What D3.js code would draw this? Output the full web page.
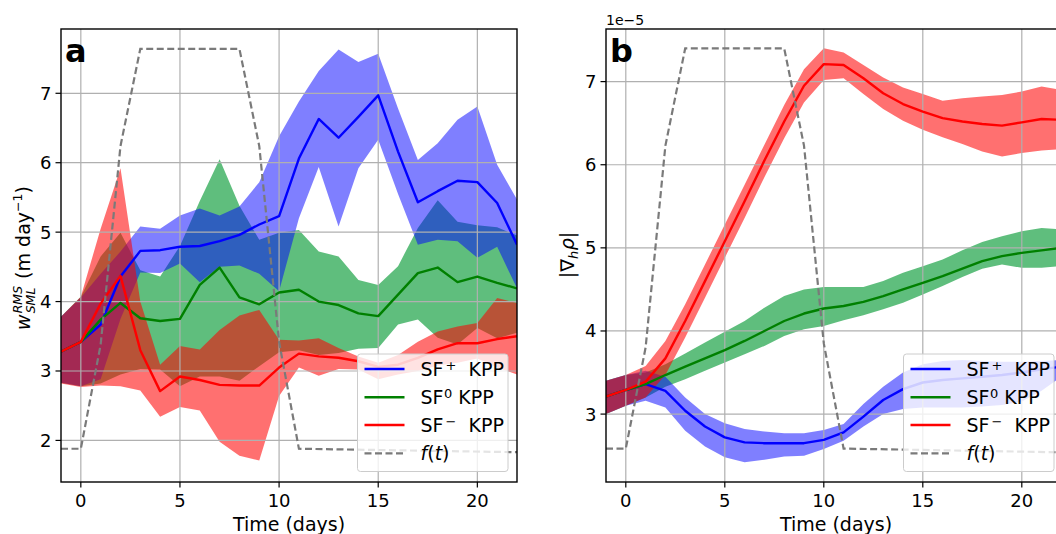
<!DOCTYPE html>
<html><head><meta charset="utf-8">
<script src="https://cdn.jsdelivr.net/npm/d3@7"></script>
<style>
body{margin:0;background:#fff}
svg{display:block}
text{font-family:"DejaVu Sans",sans-serif;fill:#000;white-space:pre}
</style>
</head><body>
<svg id="chart" width="1056" height="534"></svg>
<script>
// ---------------- data ----------------
const days = [-1,0,1,2,3,4,5,6,7,8,9,10,11,12,13,14,15,16,17,18,19,20,21,22];
const xTicks = [0,5,10,15,20];
const yTicksA = [2,3,4,5,6,7];
const yTicksB = [3,4,5,6,7];
const legendBase = ["SF","SF","SF"];
const legendSup = ["+","0","\u2212"];
const legendSuffix = ["  KPP"," KPP","  KPP"];

// panel a : w_SML^RMS (m/day)
const aPlusMean  = [3.28,3.42,3.67,4.36,4.73,4.74,4.79,4.80,4.87,4.96,5.11,5.23,6.06,6.63,6.36,6.66,6.97,6.16,5.43,5.59,5.74,5.72,5.42,4.82];
const aPlusUp    = [3.78,4.06,4.40,4.72,5.08,5.05,5.24,5.34,5.24,5.37,5.72,6.38,6.88,7.32,7.63,7.45,7.57,6.78,6.04,6.28,6.62,6.81,5.97,5.47];
const aPlusLo    = [2.83,2.78,2.88,3.75,4.42,4.41,4.55,4.28,4.50,4.52,4.40,4.15,5.20,5.94,5.08,5.92,6.33,5.55,4.82,4.89,4.87,4.63,4.79,4.19];
const aZeroMean  = [3.28,3.42,3.74,3.98,3.76,3.72,3.75,4.24,4.49,4.06,3.96,4.13,4.17,4.00,3.95,3.83,3.79,4.10,4.41,4.49,4.28,4.36,4.27,4.19];
const aZeroUp    = [3.78,4.07,4.65,4.99,4.45,4.36,4.80,5.45,6.05,5.38,4.89,4.99,5.03,4.72,4.65,4.31,4.24,4.51,5.06,5.46,5.15,5.10,5.07,4.95];
const aZeroLo    = [2.83,2.78,2.82,2.95,3.03,3.02,2.78,2.92,2.92,2.86,3.07,3.27,3.30,3.23,3.26,3.32,3.33,3.67,3.74,3.48,3.38,3.62,3.47,3.55];
const aMinusMean = [3.28,3.42,3.97,4.37,3.30,2.71,2.92,2.87,2.80,2.79,2.79,3.05,3.25,3.21,3.19,3.14,3.06,3.09,3.19,3.31,3.40,3.40,3.46,3.50];
const aMinusUp   = [3.78,4.07,5.05,5.92,4.00,3.09,3.36,3.31,3.59,3.80,3.88,3.45,3.44,3.47,3.33,3.21,3.12,3.23,3.42,3.57,3.64,3.69,4.05,3.98];
const aMinusLo   = [2.82,2.77,2.79,2.78,2.72,2.34,2.48,2.43,1.98,1.78,1.71,2.64,3.05,2.93,3.03,3.02,2.88,2.95,3.00,3.08,3.12,3.18,3.05,2.95];

// panel b : |grad_h rho| (x 1e-5)
const bPlusMean  = [3.21,3.29,3.36,3.28,3.04,2.85,2.72,2.66,2.65,2.65,2.65,2.69,2.78,2.97,3.17,3.30,3.38,3.41,3.43,3.45,3.47,3.50,3.54,3.57];
const bPlusUp    = [3.40,3.47,3.52,3.45,3.20,3.00,2.89,2.82,2.79,2.77,2.77,2.81,2.88,3.12,3.33,3.50,3.60,3.64,3.65,3.64,3.63,3.63,3.64,3.65];
const bPlusLo    = [3.00,3.10,3.16,3.08,2.80,2.61,2.48,2.42,2.45,2.49,2.50,2.58,2.68,2.85,3.00,3.06,3.08,3.08,3.08,3.09,3.11,3.15,3.28,3.45];
const bZeroMean  = [3.21,3.29,3.36,3.47,3.57,3.67,3.77,3.88,4.00,4.12,4.21,4.27,4.30,4.35,4.42,4.50,4.58,4.66,4.75,4.84,4.90,4.94,4.97,5.00];
const bZeroUp    = [3.40,3.47,3.50,3.60,3.73,3.86,3.99,4.12,4.28,4.42,4.50,4.53,4.53,4.53,4.60,4.70,4.78,4.86,4.97,5.07,5.14,5.20,5.24,5.22];
const bZeroLo    = [3.00,3.10,3.20,3.33,3.42,3.52,3.62,3.72,3.82,3.94,4.02,4.06,4.13,4.19,4.26,4.34,4.44,4.54,4.65,4.75,4.80,4.76,4.76,4.78];
const bMinusMean = [3.21,3.29,3.39,3.67,4.12,4.60,5.08,5.56,6.05,6.52,6.95,7.21,7.20,7.04,6.86,6.73,6.64,6.56,6.52,6.49,6.47,6.51,6.55,6.54];
const bMinusUp   = [3.40,3.47,3.58,3.88,4.32,4.80,5.28,5.76,6.24,6.72,7.15,7.40,7.35,7.20,7.05,6.93,6.85,6.77,6.80,6.82,6.84,6.88,6.94,6.90];
const bMinusLo   = [3.00,3.10,3.20,3.47,3.92,4.40,4.88,5.36,5.85,6.32,6.75,7.02,7.04,6.85,6.67,6.53,6.42,6.33,6.25,6.16,6.10,6.14,6.17,6.19];

// forcing f(t), drawn in each panel's units
const ftDays = [-1,0,1,2,3,8,9,10,11,22];
const ftA = [1.88,1.88,3.38,6.24,7.64,7.64,6.24,3.42,1.88,1.83];
const ftB = [2.585,2.585,3.80,6.23,7.40,7.40,6.23,3.85,2.585,2.54];

// ---------------- drawing ----------------
const svg = d3.select("#chart");
const COL = {plus:"#0000ff", zero:"#008000", minus:"#ff0000"};
const FILL = {plus:{c:"#0000ff",o:0.5}, zero:{c:"#2aa852",o:0.75}, minus:{c:"#ff0000",o:0.56}};

function zip(v){ return days.map((d,i)=>[d,v[i]]); }

function drawPanel(p){
  const g = svg.append("g");
  const x = d3.scaleLinear().domain([-1,22]).range([p.left, p.right]);
  const y = d3.scaleLinear().domain(p.yDomain).range([p.bottom, p.top]);
  const clipId = "clip"+p.id;
  svg.append("defs").append("clipPath").attr("id",clipId)
    .append("rect").attr("x",p.left).attr("y",p.top)
    .attr("width",p.right-p.left).attr("height",p.bottom-p.top);
  const plot = g.append("g").attr("clip-path",`url(#${clipId})`);

  const area = d3.area().x(d=>x(d.d)).y0(d=>y(d.lo)).y1(d=>y(d.hi));
  const line = d3.line().x(d=>x(d[0])).y(d=>y(d[1]));

  // fills: zero, plus, minus
  ["zero","plus","minus"].forEach(k=>{
    const s = p.series[k];
    const pts = days.map((d,i)=>({d, lo:s.lo[i], hi:s.hi[i]}));
    plot.append("path").attr("d",area(pts))
      .attr("fill",FILL[k].c).attr("fill-opacity",FILL[k].o).attr("stroke","none");
  });

  // grid (above fills, below lines, like matplotlib)
  const grid = plot.append("g").attr("stroke","#b0b0b0").attr("stroke-width",1.2);
  xTicks.forEach(t=>grid.append("line").attr("x1",x(t)).attr("x2",x(t)).attr("y1",p.top).attr("y2",p.bottom));
  p.yTicks.forEach(t=>grid.append("line").attr("y1",y(t)).attr("y2",y(t)).attr("x1",p.left).attr("x2",p.right));

  // mean lines
  ["plus","zero","minus"].forEach(k=>{
    plot.append("path").attr("d",line(zip(p.series[k].mean)))
      .attr("fill","none").attr("stroke",COL[k]).attr("stroke-width",2.4)
      .attr("stroke-linejoin","round");
  });
  // f(t)
  plot.append("path").attr("d",line(ftDays.map((d,i)=>[d,p.ft[i]])))
    .attr("fill","none").attr("stroke","#7a7a7a").attr("stroke-width",2.2)
    .attr("stroke-dasharray","7,3.5");

  // spines
  g.append("rect").attr("x",p.left).attr("y",p.top).attr("width",p.right-p.left).attr("height",p.bottom-p.top)
    .attr("fill","none").attr("stroke","#000").attr("stroke-width",1.4);

  // ticks
  const tk = g.append("g").attr("stroke","#000").attr("stroke-width",1.2);
  xTicks.forEach(t=>{
    tk.append("line").attr("x1",x(t)).attr("x2",x(t)).attr("y1",p.bottom).attr("y2",p.bottom+5.5);
    g.append("text").attr("x",x(t)).attr("y",p.bottom+25).attr("text-anchor","middle")
      .attr("font-size",18).text(t);
  });
  p.yTicks.forEach(t=>{
    tk.append("line").attr("x1",p.left-5.5).attr("x2",p.left).attr("y1",y(t)).attr("y2",y(t));
    g.append("text").attr("x",p.left-9.5).attr("y",y(t)+6.5).attr("text-anchor","end")
      .attr("font-size",18).text(t);
  });

  // x label
  g.append("text").attr("x",p.xlabelX).attr("y",531).attr("text-anchor","middle")
    .attr("font-size",19).text("Time (days)");

  // panel letter
  g.append("text").attr("x",p.left+4).attr("y",61.5).attr("font-size",32).attr("font-weight","bold").text(p.letter);

  // legend
  const lx = p.legendX, ly = 354;
  const lg = g.append("g");
  lg.append("rect").attr("x",lx).attr("y",ly).attr("width",150.5).attr("height",117.5).attr("rx",3)
    .attr("fill","#fff").attr("fill-opacity",0.8).attr("stroke","#cccccc").attr("stroke-width",1);
  const rows = [15,43.3,71,99.3];
  ["plus","zero","minus"].forEach((k,i)=>{
    const ry = ly+rows[i];
    lg.append("line").attr("x1",lx+7).attr("x2",lx+47).attr("y1",ry).attr("y2",ry)
      .attr("stroke",COL[k]).attr("stroke-width",2.4);
    const t = lg.append("text").attr("x",lx+63).attr("y",ry+7).attr("font-size",19);
    t.append("tspan").text(legendBase[i]);
    t.append("tspan").attr("font-size",13).attr("dy",-6.5).attr("dx",i===1?0.5:2).text(legendSup[i]);
    t.append("tspan").attr("dy",6.5).text(legendSuffix[i]);
  });
  const ry = ly+rows[3];
  lg.append("line").attr("x1",lx+7).attr("x2",lx+47).attr("y1",ry).attr("y2",ry)
    .attr("stroke","#7a7a7a").attr("stroke-width",2.2).attr("stroke-dasharray","7,3.5");
  const ft = lg.append("text").attr("x",lx+63).attr("y",ry+7).attr("font-size",19);
  ft.append("tspan").attr("font-style","italic").text("f");
  ft.append("tspan").text("(");
  ft.append("tspan").attr("font-style","italic").text("t");
  ft.append("tspan").text(")");

  return g;
}

// y label builder (rotated, pieces laid out by measured widths)
function rotatedLabel(cx, cy, pieces){
  const g = svg.append("g").attr("transform",`translate(${cx},${cy}) rotate(-90)`);
  let cur = 0; const els = [];
  pieces.forEach(pc=>{
    const t = g.append("text").attr("font-size",pc.size).attr("y",pc.dy||0).text(pc.text);
    if(pc.italic) t.attr("font-style","italic");
    const xPos = (pc.sameAsPrev ? els[els.length-1].x : cur) + (pc.dx||0);
    t.attr("x", xPos);
    const w = t.node().getComputedTextLength();
    els.push({t, x:xPos, w});
    cur = Math.max(cur, xPos + w);
  });
  els.forEach(e=>e.t.attr("x", e.x - cur/2));
}

const pa = drawPanel({
  id:"a", letter:"a", left:61, right:517, top:29, bottom:482,
  yDomain:[1.401,7.926], yTicks:yTicksA, ft:ftA, legendX:357.5, xlabelX:289,
  series:{plus:{mean:aPlusMean,hi:aPlusUp,lo:aPlusLo},
          zero:{mean:aZeroMean,hi:aZeroUp,lo:aZeroLo},
          minus:{mean:aMinusMean,hi:aMinusUp,lo:aMinusLo}}
});
const pb = drawPanel({
  id:"b", letter:"b", left:606, right:1061.4, top:29, bottom:482,
  yDomain:[2.183,7.633], yTicks:yTicksB, ft:ftB, legendX:903.5, xlabelX:836,
  series:{plus:{mean:bPlusMean,hi:bPlusUp,lo:bPlusLo},
          zero:{mean:bZeroMean,hi:bZeroUp,lo:bZeroLo},
          minus:{mean:bMinusMean,hi:bMinusUp,lo:bMinusLo}}
});

// offset text for panel b
svg.append("text").attr("x",606).attr("y",25).attr("font-size",14).text("1e\u22125");

// y labels
rotatedLabel(30, 258, [
  {text:"w", size:19, italic:true},
  {text:"RMS", size:12.5, italic:true, dy:-8, dx:1},
  {text:"SML", size:12.5, italic:true, dy:4.5, sameAsPrev:true},
  {text:" (m day", size:19, dx:1},
  {text:"\u22121", size:12.5, dy:-8},
  {text:")", size:19}
]);
rotatedLabel(574, 255, [
  {text:"|\u2207", size:19},
  {text:"h", size:13, italic:true, dy:4},
  {text:"\u03c1", size:19, italic:true, dx:0.5},
  {text:"|", size:19}
]);
</script>
</body></html>
